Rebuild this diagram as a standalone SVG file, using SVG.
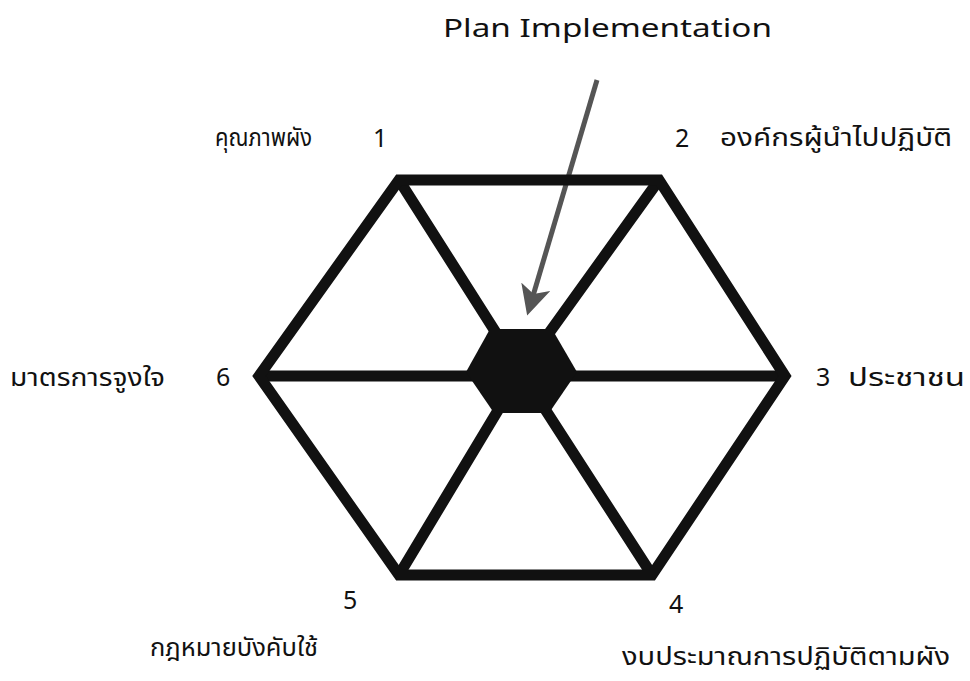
<svg xmlns="http://www.w3.org/2000/svg" width="970" height="681" viewBox="0 0 970 681">
<style>
.t{font-family:"Noto Sans Thai","Noto Sans","Liberation Sans",sans-serif;font-size:25px;fill:#111}
.n{font-family:"Noto Sans","Liberation Sans",sans-serif;font-size:25px;fill:#111}
.e{stroke:#111;stroke-width:11;fill:none;stroke-linejoin:miter}
</style>
<defs>
<marker id="ah" markerWidth="6" markerHeight="6" refX="4" refY="3" orient="auto" markerUnits="strokeWidth"><path d="M0,0 L6,3 L0,6 L1.5,3 Z" fill="#555"/></marker>
</defs>
<rect width="970" height="681" fill="#fff"/>
<g id="connectors">
<path class="e" d="M399,180 L521,372 M659,180 L521,372 M785,376 L521,376 M652,575 L521,372 M399,575 L521,372 M259,376 L521,376"/>
<line x1="597" y1="80" x2="530" y2="306" stroke="#555" stroke-width="5" marker-end="url(#ah)"/>
</g>
<g id="outer"><path class="e" d="M399,180 L659,180 L785,376 L652,575 L399,575 L259,376 Z"/></g>
<g id="center"><path d="M490,329 L552,329 L577,372 L549,413 L494,413 L466,372 Z" fill="#111"/></g>
<g id="title"><text class="n" x="443" y="37" font-size="31" textLength="329" lengthAdjust="spacingAndGlyphs">Plan Implementation</text></g>
<g id="n1"><text class="t" x="215" y="146" textLength="97" lengthAdjust="spacingAndGlyphs">คุณภาพผัง</text><text class="n" x="373" y="147">1</text></g>
<g id="n2"><text class="n" x="675" y="147">2</text><text class="t" x="720" y="146" font-size="27" textLength="232" lengthAdjust="spacingAndGlyphs">องค์กรผู้นำไปปฏิบัติ</text></g>
<g id="n3"><text class="n" x="816" y="386">3</text><text class="t" x="848" y="386" font-size="27" textLength="117" lengthAdjust="spacingAndGlyphs">ประชาชน</text></g>
<g id="n4"><text class="n" x="669" y="613">4</text><text class="t" x="622" y="665" font-size="27" textLength="328" lengthAdjust="spacingAndGlyphs">งบประมาณการปฏิบัติตามผัง</text></g>
<g id="n5"><text class="n" x="343" y="609">5</text><text class="t" x="150" y="656" textLength="168" lengthAdjust="spacingAndGlyphs">กฎหมายบังคับใช้</text></g>
<g id="n6"><text class="n" x="216" y="386">6</text><text class="t" x="10" y="386" textLength="155" lengthAdjust="spacingAndGlyphs">มาตรการจูงใจ</text></g>
</svg>
